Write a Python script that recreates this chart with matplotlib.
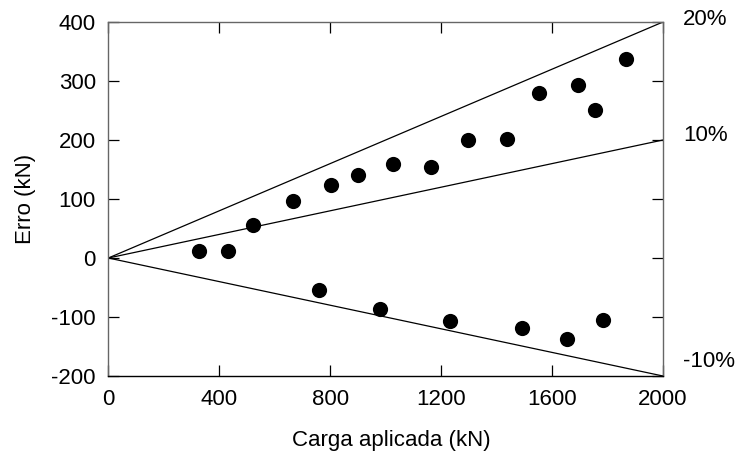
import matplotlib
matplotlib.use("Agg")
import matplotlib.pyplot as plt

plt.rcParams['font.family'] = ['Liberation Sans', 'DejaVu Sans']
plt.rcParams['axes.unicode_minus'] = False

# Measured points: applied load vs. error
carga = [327, 430, 521, 665, 803, 902, 1028, 1164, 1297, 1438, 1553, 1693, 1754, 1867,
         759, 980, 1233, 1492, 1653, 1784]
erro = [12, 12, 56, 97, 123, 141, 160, 155, 200, 202, 280, 293, 251, 338,
        -54, -87, -106, -119, -138, -105]

# Reference error bands (fraction of applied load)
faixas = [0.20, 0.10, -0.10]
faixa_labels = ['20%', '10%', '-10%']
faixa_label_y = [405, 208, -175]

x_ticks = [0, 400, 800, 1200, 1600, 2000]
y_ticks = [-200, -100, 0, 100, 200, 300, 400]

FS = 16

fig = plt.figure(figsize=(7.42, 4.57), dpi=100)
ax = fig.add_axes([0.146, 0.1772, 0.7475, 0.7747])

xmax = 2000
for f in faixas:
    ax.plot([0, xmax], [0, f * xmax], color='black', lw=0.9, zorder=2)

ax.scatter(carga, erro, s=120, color='black', zorder=3, linewidths=0)

for lab, yv in zip(faixa_labels, faixa_label_y):
    ax.text(2072, yv, lab, fontsize=FS, ha='left', va='center', clip_on=False)

ax.set_xlim(0, 2000)
ax.set_ylim(-200, 400)
ax.set_xticks(x_ticks)
ax.set_yticks(y_ticks)
ax.tick_params(direction='in', length=8, width=0.9, top=True, right=True,
               labelsize=FS, colors='black', pad=9)
for side in ['left', 'top', 'right']:
    ax.spines[side].set_color('#666666')
    ax.spines[side].set_linewidth(1.0)
ax.spines['bottom'].set_color('black')
ax.spines['bottom'].set_linewidth(1.0)

ax.set_xlabel('Carga aplicada (kN)', fontsize=FS)
ax.xaxis.set_label_coords(0.511, -0.181)
ax.xaxis.label.set_va('center')
ax.set_ylabel('Erro (kN)', fontsize=FS)
ax.yaxis.set_label_coords(-0.150, 0.5)
ax.yaxis.label.set_va('center')

fig.savefig('out.png', dpi=100)
